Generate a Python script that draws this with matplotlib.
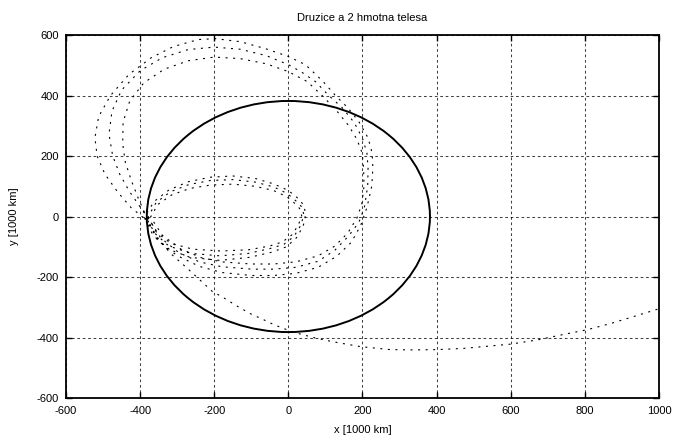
import matplotlib
matplotlib.use("Agg")
import matplotlib.pyplot as plt
from matplotlib.patches import Circle

plt.rcParams['font.family'] = ['Liberation Sans', 'DejaVu Sans']

title = "Druzice a 2 hmotna telesa"
xlabel = "x [1000 km]"
ylabel = "y [1000 km]"
xticks = [-600, -400, -200, 0, 200, 400, 600, 800, 1000]
yticks = [-600, -400, -200, 0, 200, 400, 600]
moon_orbit_radius = 382

# satellite trajectory (x, y in 1000 km)
inner0_x = [-388, -366, -328, -265, -185, -105, -45, -5, 22, 40, 47, 40, 24, 0, -40, -90, -150, -210, -270, -322, -362, -385]
inner0_y = [-5, -60, -106, -135, -145, -135, -118, -100, -70, -32, 10, 40, 62, 86, 108, 126, 134, 130, 115, 88, 50, 5]
big0_x = [-385, -354, -302, -240, -180, -100, -40, 20, 80, 130, 170, 195, 212, 225, 228, 226, 215, 190, 160, 127, 94, 46, 0, -62, -130, -197, -243, -310, -370, -430, -480, -512, -522, -516, -495, -460, -425, -395, -380]
big0_y = [-5, -75, -128, -165, -185, -195, -195, -188, -168, -132, -85, -30, 30, 100, 160, 210, 260, 314, 360, 400, 446, 502, 529, 555, 578, 588, 585, 562, 525, 470, 400, 330, 260, 200, 140, 80, 30, 0, -12]
inner1_x = [-380, -360, -322, -262, -185, -108, -50, -12, 15, 33, 42, 36, 20, -3, -40, -90, -150, -210, -268, -318, -357, -378]
inner1_y = [-12, -56, -98, -122, -130, -122, -106, -92, -66, -30, 5, 32, 52, 76, 98, 114, 122, 119, 106, 82, 46, 0]
big1_x = [-378, -345, -295, -240, -180, -100, -40, 20, 80, 125, 162, 190, 205, 214, 215, 212, 200, 178, 145, 109, 73, 35, 0, -60, -130, -200, -270, -340, -400, -450, -476, -484, -474, -455, -430, -402, -385, -372]
big1_y = [-5, -70, -120, -150, -166, -174, -174, -168, -148, -112, -65, -20, 30, 100, 160, 210, 258, 310, 360, 400, 446, 478, 502, 532, 553, 560, 552, 525, 482, 418, 348, 272, 200, 140, 85, 35, 5, -15]
inner2_x = [-372, -356, -318, -258, -182, -108, -52, -16, 10, 27, 36, 30, 15, -5, -40, -90, -150, -210, -265, -314, -352, -372]
inner2_y = [-15, -52, -88, -108, -114, -110, -98, -84, -60, -28, 3, 27, 46, 66, 86, 100, 107, 104, 93, 72, 40, -2]
big2_x = [-372, -340, -290, -235, -180, -100, -40, 20, 80, 125, 160, 185, 198, 204, 203, 199, 185, 163, 130, 91, 51, 20, 0, -60, -130, -200, -270, -335, -390, -428, -446, -447, -440, -424, -405, -390, -380]
big2_y = [-2, -62, -108, -136, -150, -157, -157, -150, -130, -98, -55, -5, 40, 100, 160, 210, 255, 300, 350, 400, 446, 466, 479, 505, 522, 527, 515, 487, 442, 382, 312, 240, 180, 120, 60, 18, -8]
escape_x = [-370, -350, -318, -272, -229, -205, -178, -140, -103, -67, -40, 10, 67, 120, 194, 275, 337, 402, 472, 526, 599, 672, 734, 807, 869, 931, 1000]
escape_y = [-35, -75, -122, -172, -221, -248, -266, -295, -321, -341, -357, -381, -400, -414, -430, -440, -441, -440, -436, -430, -422, -408, -392, -374, -354, -331, -305]

traj_x = inner0_x + big0_x + inner1_x + big1_x + inner2_x + big2_x + escape_x
traj_y = inner0_y + big0_y + inner1_y + big1_y + inner2_y + big2_y + escape_y

fig = plt.figure(figsize=(6.77, 4.45), dpi=100)
ax = fig.add_axes([0.0975, 0.1056, 0.8759, 0.8157])

ax.plot(traj_x, traj_y, color='black', linewidth=0.8, linestyle=(0, (1.8, 5.0)))
ax.add_patch(Circle((0, 0), moon_orbit_radius, fill=False, edgecolor='black', linewidth=1.4))

ax.set_xlim(xticks[0], xticks[-1])
ax.set_ylim(yticks[0], yticks[-1])
ax.set_xticks(xticks)
ax.set_yticks(yticks)
ax.set_xticklabels([str(v) for v in xticks], fontsize=8)
ax.set_yticklabels([str(v) for v in yticks], fontsize=8)
ax.tick_params(direction='in', length=4, width=1.0, top=True, right=True)
ax.tick_params(axis='x', pad=6)
ax.tick_params(axis='y', pad=5)
ax.grid(True, color='black', linestyle=(0, (2.6, 2.6)), linewidth=0.75, alpha=0.75)
for s in ax.spines.values():
    s.set_linewidth(1.3)

ax.set_title(title, fontsize=8, pad=10)
ax.set_xlabel(xlabel, fontsize=8, labelpad=6)
ax.set_ylabel(ylabel, fontsize=8, labelpad=13)

fig.savefig("out.png", dpi=100)
